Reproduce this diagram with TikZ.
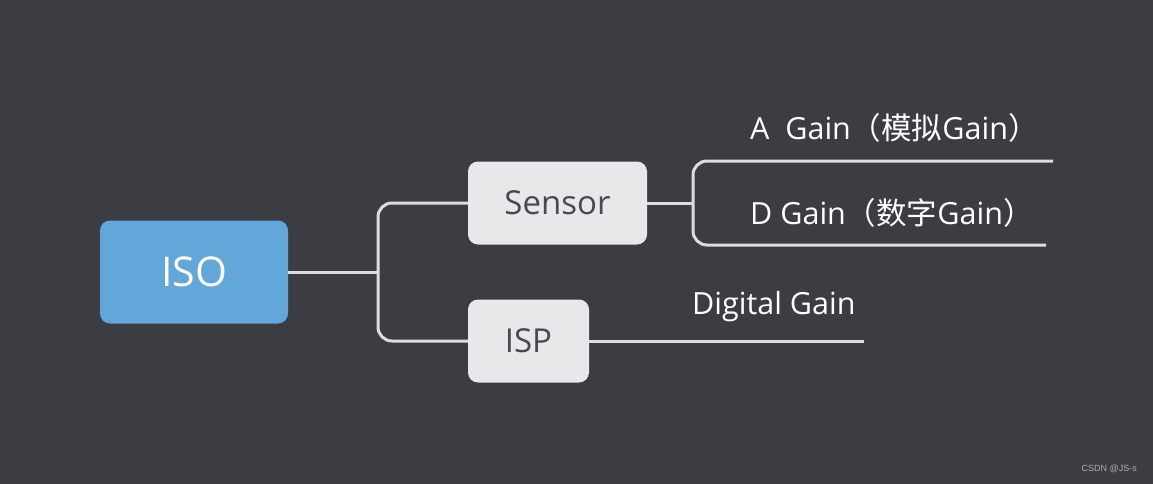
\documentclass[tikz,border=0pt]{standalone}
\usepackage{fontspec}
\setmainfont{Open Sans}
\newfontfamily\cjk{Noto Sans CJK SC}
\newfontfamily\wm{Liberation Sans}
\definecolor{bg}{HTML}{3C3D42}
\definecolor{isoblue}{HTML}{62A6DA}
\definecolor{boxgray}{HTML}{E8E8EA}
\definecolor{boxtext}{HTML}{4A4A4E}
\definecolor{linec}{HTML}{DDDDE0}
\definecolor{wmc}{HTML}{B0B0B4}
\tikzset{
  rootbox/.style={fill=isoblue, rounded corners=10pt, minimum width=188pt, minimum height=103pt, text=white, font=\fontsize{41}{44}\selectfont, inner sep=0pt},
  subbox/.style={fill=boxgray, rounded corners=10pt, minimum height=83pt, text=boxtext, font=\fontsize{33}{36}\selectfont, inner sep=0pt},
  conn/.style={draw=linec, line width=3pt, rounded corners=14pt},
  leaf/.style={text=white, font=\fontsize{30.5}{33}\selectfont, anchor=west, inner sep=0pt},
}
\begin{document}
\begin{tikzpicture}[x=1pt,y=-1pt]
\fill[bg] (0,0) rectangle (1153,484);
\useasboundingbox (0,0) rectangle (1153,484);
\node[rootbox] (iso) at (194,272) {ISO};
\node[subbox, minimum width=179pt] (sensor) at (557.5,203) {Sensor};
\node[subbox, minimum width=121pt] (isp) at (528.5,341) {ISP};
\coordinate (j1) at (378,272);
\coordinate (j2) at (693,203);
\coordinate (aend) at (1053,161);
\coordinate (dend) at (1046,245);
\coordinate (gend) at (864,341);
\draw[conn, rounded corners=0pt] (iso.east) -- (j1);
\draw[conn] (sensor.west) -| (j1) |- (isp.west);
\draw[conn, rounded corners=0pt] (sensor.east) -- (j2);
\draw[conn] (aend) -| (j2) |- (dend);
\draw[conn, rounded corners=0pt] (isp.east) -- (gend);
\node[leaf] (again) at (750,128) {A\ \ Gain{\cjk（模拟}Gain{\cjk）}};
\node[leaf] (dgain) at (750,213) {D Gain{\cjk（数字}Gain{\cjk）}};
\node[leaf] (digital) at (692,307) {Digital Gain};
\node[text=wmc, font=\wm\fontsize{9}{10}\selectfont, anchor=east, inner sep=0pt] (mark) at (1137,469) {CSDN @JS-s};
\end{tikzpicture}
\end{document}
